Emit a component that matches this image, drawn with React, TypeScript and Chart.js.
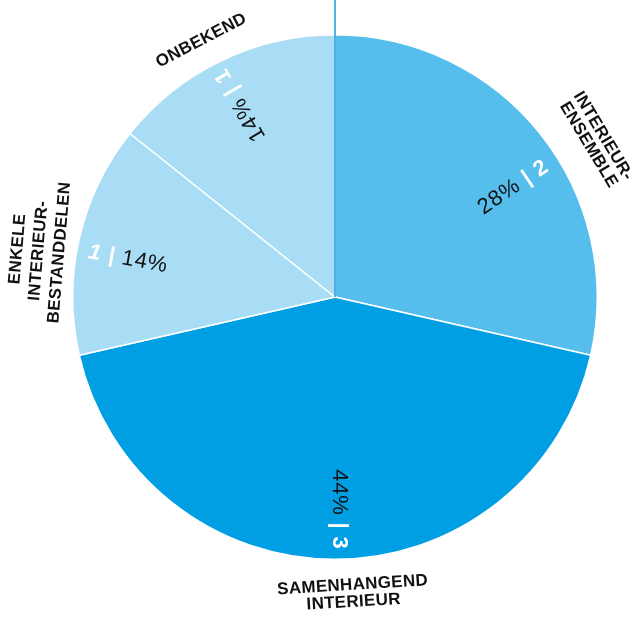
import React, { useEffect, useRef } from 'react';
import { Chart, registerables } from 'chart.js';

Chart.register(...registerables);

const categoryLines: string[][] = [
  ['INTERIEUR-', 'ENSEMBLE'],
  ['SAMENHANGEND', 'INTERIEUR'],
  ['ENKELE', 'INTERIEUR-', 'BESTANDDELEN'],
  ['ONBEKEND'],
];
const counts = [2, 3, 1, 1];
const percentLabels = ['28%', '44%', '14%', '14%'];
const sliceColors = ['#56BEEC', '#009FE3', '#A9DDF5', '#A9DDF5'];

const FONT = '"Liberation Sans", Arial, sans-serif';
const DEG = Math.PI / 180;

// layout tweaks (relative to each arc's mid angle / outer radius)
const innerLayout = [
  { dA: 7, r: 0.798, dR: -2.4, flip: false },
  { dA: -1, r: 0.81, dR: 1, flip: false },
  { dA: -2.5, r: 0.802, dR: 0, flip: true },
  { dA: -0.5, r: 0.817, dR: -4, flip: false },
];
const outerLayout = [
  { dA: 7.6, r: 1.16, dR: 0, lh: 17 },
  { dA: -3.5, r: 1.133, dR: 0, lh: 17 },
  { dA: -4, r: 1.144, dR: -4, lh: 21 },
  { dA: -1.8, r: 1.103, dR: 0, lh: 17 },
];

const labelPlugin = {
  id: 'pieLabels',
  afterDatasetsDraw(chart: any) {
    const ctx: CanvasRenderingContext2D = chart.ctx;
    const arcs = chart.getDatasetMeta(0).data;
    if (!arcs.length) return;
    const cx = arcs[0].x;
    const cy = arcs[0].y;
    const R = arcs[0].outerRadius;

    ctx.save();
    ctx.strokeStyle = '#2A9CDC';
    ctx.lineWidth = 1.6;
    ctx.beginPath();
    ctx.moveTo(cx, 0);
    ctx.lineTo(cx, cy);
    ctx.stroke();
    ctx.restore();

    arcs.forEach((arc: any, i: number) => {
      const { startAngle, endAngle } = arc.getProps(['startAngle', 'endAngle'], true);
      const mid = (startAngle + endAngle) / 2;

      // inner label
      const il = innerLayout[i];
      const ia = mid + il.dA * DEG;
      const ix = cx + Math.cos(ia) * R * il.r;
      const iy = cy + Math.sin(ia) * R * il.r;
      let irot = ia + il.dR * DEG;
      if (il.flip) irot -= Math.PI;
      const pct = { text: percentLabels[i], font: `400 22px ${FONT}`, color: '#111111' };
      const gap = { text: ' ', font: `400 22px ${FONT}`, color: '#111111' };
      const cnt = il.flip
        ? { text: `${counts[i]} |`, font: `italic 700 22px ${FONT}`, color: '#FFFFFF' }
        : { text: `| ${counts[i]}`, font: `700 22px ${FONT}`, color: '#FFFFFF' };
      const parts = il.flip ? [cnt, gap, pct] : [pct, gap, cnt];
      ctx.save();
      ctx.translate(ix, iy);
      ctx.rotate(irot);
      ctx.textBaseline = 'middle';
      ctx.textAlign = 'left';
      (ctx as any).letterSpacing = '0.8px';
      const widths = parts.map((p) => {
        ctx.font = p.font;
        return ctx.measureText(p.text).width;
      });
      const total = widths.reduce((a, b) => a + b, 0);
      let px = -total / 2;
      parts.forEach((p, k) => {
        ctx.font = p.font;
        ctx.fillStyle = p.color;
        ctx.fillText(p.text, px, 0);
        px += widths[k];
      });
      ctx.restore();

      // outer label
      const ol = outerLayout[i];
      const oa = mid + ol.dA * DEG;
      const ox = cx + Math.cos(oa) * R * ol.r;
      const oy = cy + Math.sin(oa) * R * ol.r;
      let orot = oa + Math.PI / 2 + ol.dR * DEG;
      while (orot > Math.PI) orot -= 2 * Math.PI;
      while (orot <= -Math.PI) orot += 2 * Math.PI;
      if (orot > Math.PI / 2) orot -= Math.PI;
      if (orot < -Math.PI / 2) orot += Math.PI;
      const lines = categoryLines[i];
      ctx.save();
      ctx.translate(ox, oy);
      ctx.rotate(orot);
      ctx.font = `700 17px ${FONT}`;
      (ctx as any).letterSpacing = '0.3px';
      ctx.fillStyle = '#111111';
      ctx.textAlign = 'center';
      ctx.textBaseline = 'middle';
      lines.forEach((ln, k) => {
        ctx.fillText(ln, 0, (k - (lines.length - 1) / 2) * ol.lh);
      });
      ctx.restore();
    });
  },
};

export default function App() {
  const ref = useRef<HTMLCanvasElement | null>(null);
  useEffect(() => {
    if (!ref.current) return;
    const chart = new Chart(ref.current, {
      type: 'pie',
      data: {
        labels: categoryLines.map((l) => l.join(' ')),
        datasets: [
          {
            data: counts,
            backgroundColor: sliceColors,
            borderColor: '#FFFFFF',
            borderWidth: 1.5,
          },
        ],
      },
      options: {
        responsive: false,
        animation: false,
        layout: { padding: { left: 72, right: 41, top: 34, bottom: 59 } },
        plugins: {
          legend: { display: false },
          tooltip: { enabled: false },
        },
      },
      plugins: [labelPlugin],
    });
    return () => chart.destroy();
  }, []);
  return (
    <div style={{ position: 'absolute', left: 0, top: 0, width: 639, height: 619, background: '#fff' }}>
      <canvas ref={ref} width={639} height={619} style={{ display: 'block' }} />
    </div>
  );
}
